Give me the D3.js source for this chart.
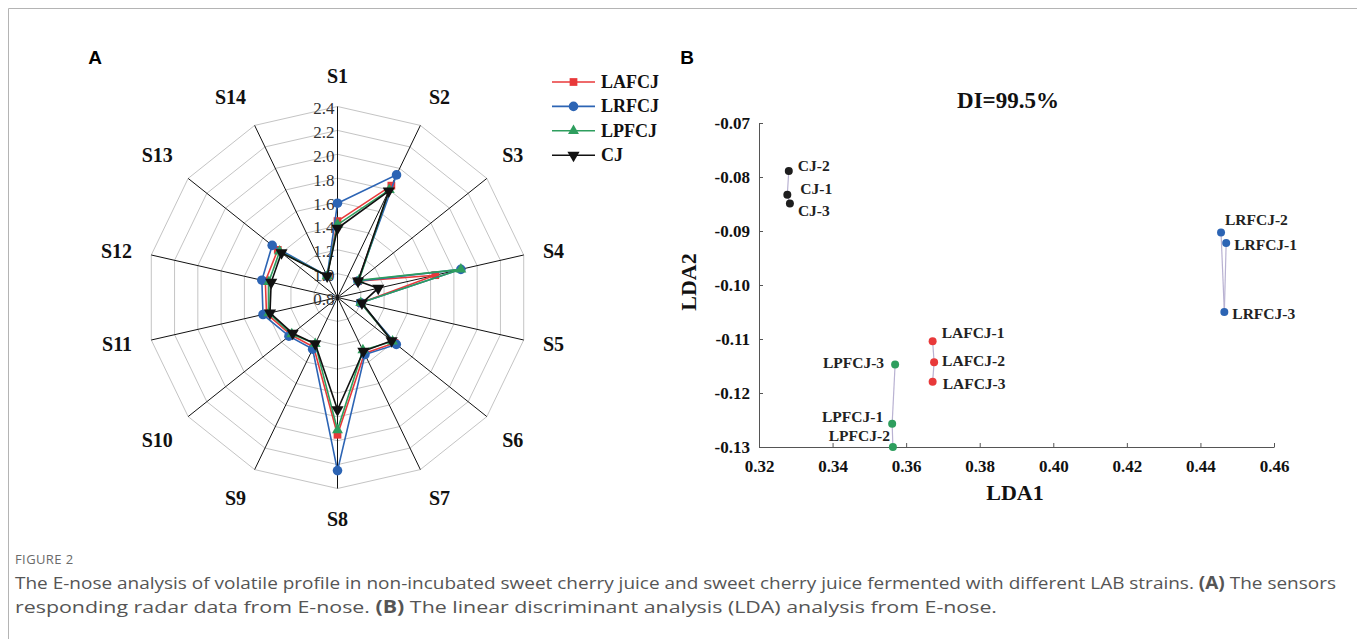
<!DOCTYPE html>
<html>
<head>
<meta charset="utf-8">
<script src="https://cdn.jsdelivr.net/npm/d3@7"></script>
<style>
  body { margin: 0; background: #fff; }
  svg { display: block; }
</style>
</head>
<body>
<svg id="fig" width="1357" height="639"></svg>
<script>
// ---------- Radar data (E-nose sensor responses) ----------
const sensors = ["S1","S2","S3","S4","S5","S6","S7","S8","S9","S10","S11","S12","S13","S14"];
const radarTicks = [0.8, 1.0, 1.2, 1.4, 1.6, 1.8, 2.0, 2.2, 2.4];
const seriesNames = ["LAFCJ", "LRFCJ", "LPFCJ", "CJ"];
const valuesLAFCJ = [1.44, 1.84, 1.02, 1.64, 1.00, 1.41, 1.32, 1.95, 1.26, 1.30, 1.41, 1.42, 1.44, 1.00];
const valuesLRFCJ = [1.59, 1.94, 1.02, 1.86, 1.00, 1.43, 1.33, 2.25, 1.28, 1.32, 1.44, 1.45, 1.50, 1.00];
const valuesLPFCJ = [1.41, 1.80, 1.03, 1.86, 1.00, 1.39, 1.29, 1.91, 1.23, 1.29, 1.39, 1.39, 1.42, 1.00];
const valuesCJ    = [1.38, 1.79, 1.02, 1.15, 1.01, 1.38, 1.30, 1.74, 1.23, 1.28, 1.38, 1.37, 1.40, 1.00];

// ---------- LDA data ----------
const ldaSamples = ["CJ-1","CJ-2","CJ-3","LRFCJ-1","LRFCJ-2","LRFCJ-3","LAFCJ-1","LAFCJ-2","LAFCJ-3","LPFCJ-1","LPFCJ-2","LPFCJ-3"];
const ldaGroups  = ["CJ","CJ","CJ","LRFCJ","LRFCJ","LRFCJ","LAFCJ","LAFCJ","LAFCJ","LPFCJ","LPFCJ","LPFCJ"];
const lda1 = [0.3277, 0.3281, 0.3284, 0.4470, 0.4456, 0.4465, 0.3672, 0.3676, 0.3672, 0.3562, 0.3564, 0.3570];
const lda2 = [-0.0833, -0.0789, -0.0849, -0.0922, -0.0903, -0.1050, -0.1104, -0.1143, -0.1179, -0.1257, -0.1300, -0.1147];
const ldaLinks = [["CJ-2","CJ-1"],["CJ-1","CJ-3"],["LRFCJ-2","LRFCJ-3"],["LRFCJ-1","LRFCJ-3"],
                  ["LAFCJ-1","LAFCJ-2"],["LAFCJ-2","LAFCJ-3"],["LPFCJ-3","LPFCJ-1"],["LPFCJ-1","LPFCJ-2"]];
const ldaXTicks = [0.32, 0.34, 0.36, 0.38, 0.40, 0.42, 0.44, 0.46];
const ldaYTicks = [-0.13, -0.12, -0.11, -0.10, -0.09, -0.08, -0.07];
const ldaTitle = "DI=99.5%";

// ---------- Styling ----------
const colors = { LAFCJ: "#e8393a", LRFCJ: "#2c64b4", LPFCJ: "#2e9e5e", CJ: "#111111" };
const symbols = {
  LAFCJ: { type: d3.symbolSquare, size: 60, rot: 0 },
  LRFCJ: { type: d3.symbolCircle, size: 72, rot: 0 },
  LPFCJ: { type: d3.symbolTriangle, size: 52, rot: 0 },
  CJ:    { type: d3.symbolTriangle, size: 64, rot: 180 }
};
const serif = "'Liberation Serif', 'Times New Roman', serif";
const sans = "'Liberation Sans', Arial, sans-serif";

// label placement for LDA sample names: [dx, dy, anchor]
const ldaLabelPlacement = {
  "CJ-1": [13, -6, "start"], "CJ-2": [9, -6, "start"], "CJ-3": [8, 7, "start"],
  "LRFCJ-1": [8, 2, "start"], "LRFCJ-2": [4, -13, "start"], "LRFCJ-3": [8, 1, "start"],
  "LAFCJ-1": [9, -9, "start"], "LAFCJ-2": [8, -2, "start"], "LAFCJ-3": [10, 2, "start"],
  "LPFCJ-1": [-9, -7, "end"], "LPFCJ-2": [-3, -12, "end"], "LPFCJ-3": [-11, -2, "end"]
};

const svg = d3.select("#fig");

// frame
svg.append("line").attr("x1", 8.5).attr("y1", 8.5).attr("x2", 1357).attr("y2", 8.5)
  .attr("stroke", "#b4b4b4").attr("stroke-width", 1);
svg.append("line").attr("x1", 8.5).attr("y1", 8.5).attr("x2", 8.5).attr("y2", 639)
  .attr("stroke", "#b4b4b4").attr("stroke-width", 1);

// panel letters
svg.append("text").attr("x", 95).attr("y", 64).attr("text-anchor", "middle")
  .attr("font-family", sans).attr("font-weight", "bold").attr("font-size", 19).text("A");
svg.append("text").attr("x", 687).attr("y", 64).attr("text-anchor", "middle")
  .attr("font-family", sans).attr("font-weight", "bold").attr("font-size", 19).text("B");

// ================= Radar chart =================
const cx = 337.5, cy = 297.5, outerR = 191;
const rScale = d3.scaleLinear().domain([0.8, 2.4]).range([0, outerR]);
const n = sensors.length;
const angle = i => i * 2 * Math.PI / n;

const radar = svg.append("g").attr("transform", `translate(${cx},${cy})`);

// grid rings
radar.append("g").selectAll("path").data(radarTicks.filter(t => t > 0.8)).join("path")
  .attr("d", t => d3.lineRadial().angle((d, i) => angle(i)).radius(() => rScale(t))
    .curve(d3.curveLinearClosed)(sensors))
  .attr("fill", "none").attr("stroke", "#c4c4c4").attr("stroke-width", 1);

// spokes
radar.append("g").selectAll("line").data(sensors).join("line")
  .attr("x1", 0).attr("y1", 0)
  .attr("x2", (d, i) => outerR * Math.sin(angle(i)))
  .attr("y2", (d, i) => -outerR * Math.cos(angle(i)))
  .attr("stroke", "#111").attr("stroke-width", 1);

// tick labels
radar.append("g").selectAll("text").data(radarTicks).join("text")
  .attr("x", -3).attr("y", t => -rScale(t) + 2)
  .attr("text-anchor", "end").attr("dominant-baseline", "central")
  .attr("font-family", serif).attr("font-size", 17).attr("fill", "#333")
  .text(d3.format(".1f"));

// sensor labels: anchored on the side facing the chart, pushed out vertically near the poles
const labelR = 210.7;
radar.append("g").selectAll("text").data(sensors).join("text")
  .attr("x", (d, i) => labelR * Math.sin(angle(i)))
  .attr("y", (d, i) => {
    const c = Math.cos(angle(i));
    return -labelR * c - (Math.abs(c) > 0.5 ? 11 * Math.sign(c) : 0);
  })
  .attr("text-anchor", (d, i) => {
    const s = Math.sin(angle(i));
    return s > 0.01 ? "start" : s < -0.01 ? "end" : "middle";
  })
  .attr("dominant-baseline", "central")
  .attr("font-family", serif).attr("font-weight", "bold").attr("font-size", 20).attr("fill", "#111")
  .text(d => d);

// series
const seriesData = {
  LAFCJ: valuesLAFCJ, LRFCJ: valuesLRFCJ, LPFCJ: valuesLPFCJ, CJ: valuesCJ
};
const radialLine = d3.lineRadial().angle((d, i) => angle(i)).radius(d => rScale(d))
  .curve(d3.curveLinearClosed);

seriesNames.forEach(name => {
  const vals = seriesData[name];
  const g = radar.append("g");
  g.append("path").attr("d", radialLine(vals))
    .attr("fill", "none").attr("stroke", colors[name]).attr("stroke-width", 1.6);
  const sym = symbols[name];
  g.selectAll("path.m").data(vals).join("path").attr("class", "m")
    .attr("d", d3.symbol().type(sym.type).size(sym.size))
    .attr("transform", (d, i) =>
      `translate(${rScale(d) * Math.sin(angle(i))},${-rScale(d) * Math.cos(angle(i))}) rotate(${sym.rot})`)
    .attr("fill", colors[name]);
});

// legend
const legend = svg.append("g").attr("transform", "translate(552,82)");
seriesNames.forEach((name, k) => {
  const row = legend.append("g").attr("transform", `translate(0,${k * 24.4})`);
  row.append("line").attr("x1", 0).attr("x2", 43).attr("y1", 0).attr("y2", 0)
    .attr("stroke", colors[name]).attr("stroke-width", 1.6);
  const sym = symbols[name];
  row.append("path").attr("d", d3.symbol().type(sym.type).size(sym.size))
    .attr("transform", `translate(21.5,0) rotate(${sym.rot})`).attr("fill", colors[name]);
  row.append("text").attr("x", 49).attr("y", 0).attr("dominant-baseline", "central")
    .attr("font-family", serif).attr("font-weight", "bold").attr("font-size", 18).attr("fill", "#111")
    .text(name);
});

// ================= LDA scatter =================
const x = d3.scaleLinear().domain([0.32, 0.46]).range([759, 1274]);
const y = d3.scaleLinear().domain([-0.13, -0.07]).range([447, 123]);

const xAxis = svg.append("g").attr("transform", `translate(0,${y(-0.13)})`)
  .call(d3.axisBottom(x).tickValues(ldaXTicks).tickSizeInner(-4).tickSizeOuter(0)
    .tickPadding(13).tickFormat(d => d.toFixed(2)));
const yAxis = svg.append("g").attr("transform", `translate(${x(0.32)},0)`)
  .call(d3.axisLeft(y).tickValues(ldaYTicks).tickSizeInner(-4).tickSizeOuter(0)
    .tickPadding(9).tickFormat(d => d.toFixed(2)));
[xAxis, yAxis].forEach(ax => {
  ax.attr("font-family", null).attr("font-size", null);
  ax.select(".domain").attr("stroke", "#555");
  ax.selectAll(".tick line").attr("stroke", "#555");
  ax.selectAll(".tick text").attr("font-family", serif).attr("font-weight", "bold")
    .attr("font-size", 17).attr("fill", "#111");
});

const pts = ldaSamples.map((s, i) => ({ name: s, group: ldaGroups[i], v1: lda1[i], v2: lda2[i] }));
const byName = Object.fromEntries(pts.map(p => [p.name, p]));

svg.append("g").selectAll("line").data(ldaLinks).join("line")
  .attr("x1", d => x(byName[d[0]].v1)).attr("y1", d => y(byName[d[0]].v2))
  .attr("x2", d => x(byName[d[1]].v1)).attr("y2", d => y(byName[d[1]].v2))
  .attr("stroke", "#b9b2d2").attr("stroke-width", 1.2);

svg.append("g").selectAll("circle").data(pts).join("circle")
  .attr("cx", d => x(d.v1)).attr("cy", d => y(d.v2)).attr("r", 4)
  .attr("fill", d => d.group === "CJ" ? "#1e1e1e" : colors[d.group]);

svg.append("g").selectAll("text").data(pts).join("text")
  .attr("x", d => x(d.v1) + ldaLabelPlacement[d.name][0])
  .attr("y", d => y(d.v2) + ldaLabelPlacement[d.name][1])
  .attr("text-anchor", d => ldaLabelPlacement[d.name][2])
  .attr("dominant-baseline", "central")
  .attr("font-family", serif).attr("font-weight", "bold").attr("font-size", 15.5).attr("fill", "#222")
  .text(d => d.name);

svg.append("text").attr("x", 1008).attr("y", 100).attr("text-anchor", "middle")
  .attr("dominant-baseline", "central")
  .attr("font-family", serif).attr("font-weight", "bold").attr("font-size", 23).attr("fill", "#111")
  .text(ldaTitle);
svg.append("text").attr("x", 1015).attr("y", 492).attr("text-anchor", "middle")
  .attr("dominant-baseline", "central")
  .attr("font-family", serif).attr("font-weight", "bold").attr("font-size", 22).attr("fill", "#111")
  .text("LDA1");
svg.append("text").attr("transform", "translate(688,282) rotate(-90)").attr("text-anchor", "middle")
  .attr("dominant-baseline", "central")
  .attr("font-family", serif).attr("font-weight", "bold").attr("font-size", 22).attr("fill", "#111")
  .text("LDA2");

// ================= Caption =================
const capFont = "'Open Sans', 'Noto Sans', sans-serif";
svg.append("text").attr("x", 15).attr("y", 564)
  .attr("font-family", capFont).attr("font-size", 13).attr("fill", "#6a6a6a")
  .attr("letter-spacing", 0.4).text("FIGURE 2");
const capLines = [
  { width: 1321, parts: [["The E-nose analysis of volatile profile in non-incubated sweet cherry juice and sweet cherry juice fermented with different LAB strains. ", false], ["(A)", true], [" The sensors", false]] },
  { width: 982, parts: [["responding radar data from E-nose. ", false], ["(B)", true], [" The linear discriminant analysis (LDA) analysis from E-nose.", false]] }
];
capLines.forEach((line, li) => {
  const t = svg.append("text").attr("x", 15).attr("y", 589 + li * 24)
    .attr("font-family", capFont).attr("font-size", 17).attr("fill", "#555")
    .attr("textLength", line.width).attr("lengthAdjust", "spacingAndGlyphs");
  line.parts.forEach(([s, b]) => t.append("tspan").attr("font-weight", b ? "bold" : "normal").text(s));
});
</script>
</body>
</html>
